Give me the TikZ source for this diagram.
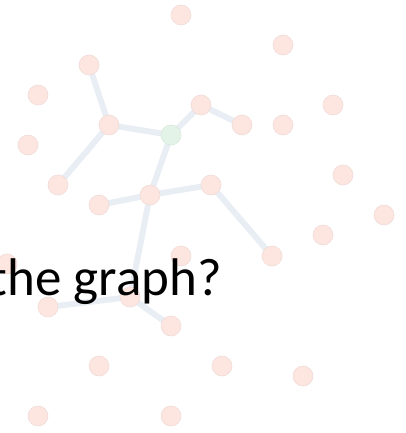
\documentclass[tikz,border=0pt]{standalone}
\usepackage{fontspec}
\setmainfont{Carlito}
\definecolor{nodefill}{HTML}{FDE5E0}
\definecolor{nodedraw}{HTML}{F0DCD8}
\definecolor{greenfill}{HTML}{E3F3E8}
\definecolor{greendraw}{HTML}{D8E8DC}
\definecolor{edgecol}{HTML}{E9EEF5}
\begin{document}
\begin{tikzpicture}[x=1pt,y=-1pt,
  vtx/.style={circle,fill=nodefill,draw=nodedraw,line width=0.6pt,minimum size=20pt,inner sep=0pt},
  gvtx/.style={vtx,fill=greenfill,draw=greendraw},
  edg/.style={draw=edgecol,line width=6pt}]
\useasboundingbox (0,0) rectangle (405,433);
\coordinate (pA) at (181,15);
\coordinate (pB) at (283,45);
\coordinate (pC) at (89,65);
\coordinate (pD) at (38,95);
\coordinate (pE) at (201,105);
\coordinate (pF) at (333,105);
\coordinate (pG) at (109,125);
\coordinate (pH) at (242,125);
\coordinate (pI) at (283,125);
\coordinate (pJ) at (171,135);
\coordinate (pK) at (28,145);
\coordinate (pL) at (343,175);
\coordinate (pM) at (58,185);
\coordinate (pN) at (211,185);
\coordinate (pO) at (150,195);
\coordinate (pP) at (99,205);
\coordinate (pQ) at (384,215);
\coordinate (pR) at (323,235);
\coordinate (pS) at (272,256);
\coordinate (pT) at (181,256);
\coordinate (pU) at (7,264);
\coordinate (pV) at (130,297);
\coordinate (pW) at (48,307);
\coordinate (pX) at (171,326);
\coordinate (pY) at (99,366);
\coordinate (pZ) at (222,366);
\coordinate (pAA) at (303,376);
\coordinate (pBB) at (38,416);
\coordinate (pCC) at (171,416);
% edges
\draw[edg] (pC) -- (pG);
\draw[edg] (pG) -- (pJ);
\draw[edg] (pG) -- (pM);
\draw[edg] (pJ) -- (pE);
\draw[edg] (pE) -- (pH);
\draw[edg] (pJ) -- (pO);
\draw[edg] (pO) -- (pP);
\draw[edg] (pO) -- (pN);
\draw[edg] (pN) -- (pS);
\draw[edg] (pO) -- (pV);
\draw[edg] (pV) -- (pW);
\draw[edg] (pV) -- (pX);
% vertices
\foreach \p in {pA,pB,pC,pD,pE,pF,pG,pH,pI,pK,pL,pM,pN,pO,pP,pQ,pR,pS,pT,pU,pV,pW,pX,pY,pZ,pAA,pBB,pCC}
  \node[vtx] (n\p) at (\p) {};
\node[gvtx] (npJ) at (pJ) {};
% text
\node[anchor=base east,inner sep=0pt,font=\fontsize{53}{61}\selectfont] (txt) at (222,295) {the graph?};
\end{tikzpicture}
\end{document}
